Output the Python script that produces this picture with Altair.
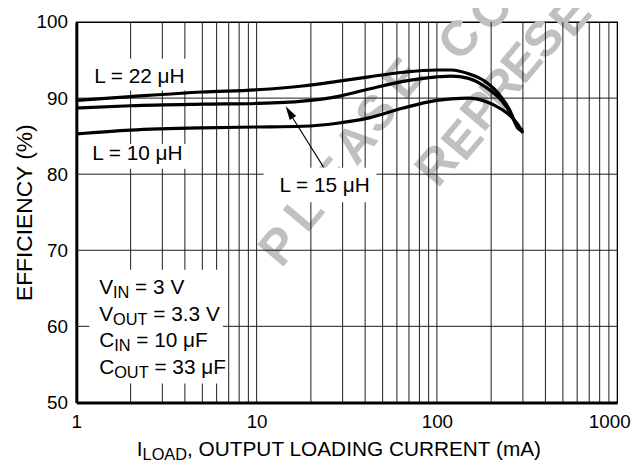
import altair as alt
import pandas as pd

# ---------------- values ----------------
current_mA = [1, 2, 5, 10, 18, 28, 42, 65, 100, 120, 150, 185, 230, 255, 280, 300]
eff_L22 = [89.7, 90.2, 90.8, 91.1, 91.6, 92.2, 92.8, 93.4, 93.7, 93.7, 93.2, 92.2, 90.0, 88.3, 86.1, 85.6]
eff_L15 = [88.7, 89.0, 89.2, 89.3, 89.6, 90.2, 91.2, 92.2, 92.8, 92.9, 92.6, 91.5, 89.6, 88.1, 86.3, 85.8]
eff_L10 = [85.3, 85.8, 86.1, 86.2, 86.3, 86.7, 87.4, 88.7, 89.7, 89.9, 90.0, 89.6, 88.5, 87.7, 86.6, 85.4]
series_labels = ["L = 22 μH", "L = 15 μH", "L = 10 μH"]

x_tick_values = [1, 10, 100, 1000]
y_tick_values = [50, 60, 70, 80, 90, 100]
x_grid_values = [2, 3, 4, 5, 6, 7, 8, 9, 10,
                 20, 30, 40, 50, 60, 70, 80, 90, 100,
                 200, 300, 400, 500, 600, 700, 800, 900]
y_grid_values = [60, 70, 80, 90]

y_title = "EFFICIENCY (%)"
x_title_parts = [("I", "m"), ("LOAD", "s"), (", OUTPUT LOADING CURRENT (mA)", "m")]
condition_lines = [
    [("V", "m"), ("IN", "s"), (" = 3 V", "m")],
    [("V", "m"), ("OUT", "s"), (" = 3.3 V", "m")],
    [("C", "m"), ("IN", "s"), (" = 10 μF", "m")],
    [("C", "m"), ("OUT", "s"), (" = 33 μF", "m")],
]
watermark_line1 = "PLEASECO"
watermark_line2 = "REPRESE"

# ---------------- layout (page pixels) ----------------
FONT = "Liberation Sans"
W, H = 546, 384
PX0, PY0 = 77, 20          # page position of the plot's top-left corner
FS_MAIN, FS_SUB, SUB_DROP = 21, 16.5, 4.0

ADV = {'L': .556, ' ': .278, '=': .584, '0': .556, '1': .556, '2': .556, '3': .556,
       '5': .556, '.': .278, 'μ': .576, 'H': .722, 'V': .667, 'I': .278, 'N': .722,
       'O': .778, 'U': .722, 'T': .611, 'C': .722, 'F': .611, 'A': .667, 'D': .722,
       ',': .278, 'P': .667, 'G': .778, 'R': .722, 'E': .667, '(': .333, ')': .333,
       'm': .833}


def to_x(px):
    return 10 ** (3 * (px - PX0) / W)


def to_y(py):
    return 100 - 50 * (py - PY0) / H


def tw(s, fs):
    return sum(ADV.get(c, .556) for c in s) * fs


def layout(parts, x0, base, main_rows, sub_rows):
    x = x0
    for txt, kind in parts:
        fs = FS_MAIN if kind == "m" else FS_SUB
        body = txt.lstrip(" ")
        lead = len(txt) - len(body)
        xs = x + lead * ADV[" "] * fs
        row = {"x": to_x(xs), "y": to_y(base if kind == "m" else base + SUB_DROP), "t": body}
        (main_rows if kind == "m" else sub_rows).append(row)
        x += tw(txt, fs)


main_rows, sub_rows = [], []
label_pos = {"L = 22 μH": (95, 82), "L = 10 μH": (93, 159), "L = 15 μH": (282, 192)}
for lab in series_labels:
    layout([(lab, "m")], *label_pos[lab], main_rows, sub_rows)
for i, parts in enumerate(condition_lines):
    layout(parts, 100, [295, 321.7, 348.3, 375][i], main_rows, sub_rows)
layout(x_title_parts, 138, 458, main_rows, sub_rows)

box_px = [(88, 57, 193, 89), (86, 143, 190, 168), (266, 167, 380, 202), (90, 270, 225, 385)]
boxes = pd.DataFrame([{"x1": to_x(a), "y1": to_y(b), "x2": to_x(c), "y2": to_y(d)}
                      for a, b, c, d in box_px])

wm_centers1 = [(283, 247), (308, 213), (338, 178), (360, 143), (381, 113), (408, 78), (465, 38), (497, 8)]
wm_centers2 = [(442, 165), (468, 140), (487, 110), (507, 87), (528, 62), (550, 38), (577, 15)]
wm = pd.DataFrame(
    [{"x": to_x(p[0]), "y": to_y(p[1]), "t": c} for c, p in zip(watermark_line1, wm_centers1)] +
    [{"x": to_x(p[0]), "y": to_y(p[1]), "t": c} for c, p in zip(watermark_line2, wm_centers2)])

arrow_tail, arrow_mid, arrow_head = (326.7, 166.7), (292.5, 112), (292, 111)
arrow_line = pd.DataFrame([{"x1": to_x(arrow_tail[0]), "y1": to_y(arrow_tail[1]),
                            "x2": to_x(arrow_mid[0]), "y2": to_y(arrow_mid[1])}])
arrow_pt = pd.DataFrame([{"x": to_x(arrow_head[0]), "y": to_y(arrow_head[1])}])

# ---------------- data tables ----------------
curves = pd.DataFrame(
    [{"I": i, "eff": e, "series": series_labels[0]} for i, e in zip(current_mA, eff_L22)] +
    [{"I": i, "eff": e, "series": series_labels[1]} for i, e in zip(current_mA, eff_L15)] +
    [{"I": i, "eff": e, "series": series_labels[2]} for i, e in zip(current_mA, eff_L10)])
vgrid = pd.DataFrame({"v": x_grid_values})
hgrid = pd.DataFrame({"v": y_grid_values})

# ---------------- scales & axes ----------------
xs = alt.Scale(type="log", domain=[1, 1000], nice=False)
ys = alt.Scale(domain=[50, 100], nice=False, zero=False)
xaxis = alt.Axis(values=x_tick_values, format="d", grid=False, ticks=False, tickSize=0,
                 domainColor="black", domainWidth=3, labelFont=FONT, labelFontSize=19,
                 labelColor="black", labelPadding=10, labelFlush=False,
                 labelOffset={"condition": {"test": "datum.value >= 1000", "value": -8}, "value": 0},
                 title=None)
yaxis = alt.Axis(values=y_tick_values, grid=False, ticks=False, tickSize=0,
                 domainColor="black", domainWidth=3, labelFont=FONT, labelFontSize=19,
                 labelColor="black", labelPadding=9, title=y_title, titleFont=FONT,
                 titleFontSize=23, titleFontWeight="normal", titleColor="black", titlePadding=0)


def X(f):
    return alt.X(f, type="quantitative", scale=xs, axis=xaxis)


def Y(f):
    return alt.Y(f, type="quantitative", scale=ys, axis=yaxis, title=y_title)


wm_layer = alt.Chart(wm).mark_text(angle=310, font=FONT, fontWeight="bold", fontSize=50,
                                   color="#c0c0c0", align="center", baseline="middle").encode(
    x=X("x"), y=Y("y"), text="t:N", size=alt.value(50))
vgrid_layer = alt.Chart(vgrid).mark_rule(color="#1a1a1a", strokeWidth=1).encode(
    x=X("v"), y=alt.value(0), y2=alt.value(H))
hgrid_layer = alt.Chart(hgrid).mark_rule(color="#1a1a1a", strokeWidth=1).encode(
    y=Y("v"), x=alt.value(0), x2=alt.value(W))
box_layer = alt.Chart(boxes).mark_rect(color="white").encode(
    x=X("x1"), x2="x2", y=Y("y1"), y2="y2")
curve_layer = alt.Chart(curves).mark_line(color="black", strokeWidth=3.2, interpolate="monotone").encode(
    x=X("I"), y=Y("eff"), detail="series:N")
arrow_layer = alt.Chart(arrow_line).mark_rule(color="black", strokeWidth=1.1).encode(
    x=X("x1"), y=Y("y1"), x2="x2", y2="y2")
head_layer = alt.Chart(arrow_pt).mark_point(shape="M0,-1L0.55,1L-0.55,1Z", filled=True, size=196,
                                            angle=328, color="black", opacity=1).encode(
    x=X("x"), y=Y("y"))
main_text = alt.Chart(pd.DataFrame(main_rows)).mark_text(
    font=FONT, color="black", align="left", baseline="alphabetic").encode(
    x=X("x"), y=Y("y"), text="t:N", size=alt.value(FS_MAIN))
sub_text = alt.Chart(pd.DataFrame(sub_rows)).mark_text(
    font=FONT, color="black", align="left", baseline="alphabetic").encode(
    x=X("x"), y=Y("y"), text="t:N", size=alt.value(FS_SUB))

chart = alt.layer(wm_layer, vgrid_layer, hgrid_layer, box_layer, curve_layer,
                  arrow_layer, head_layer, main_text, sub_text).properties(
    width=W, height=H,
    autosize=alt.AutoSizeParams(type="none"),
    padding={"left": PX0 - 8, "top": PY0 - 8, "right": 16, "bottom": 60},
    background="white",
).configure_view(stroke="black", strokeWidth=1.3)

chart.save("out.html", embed_options={"renderer": "svg", "actions": False})
